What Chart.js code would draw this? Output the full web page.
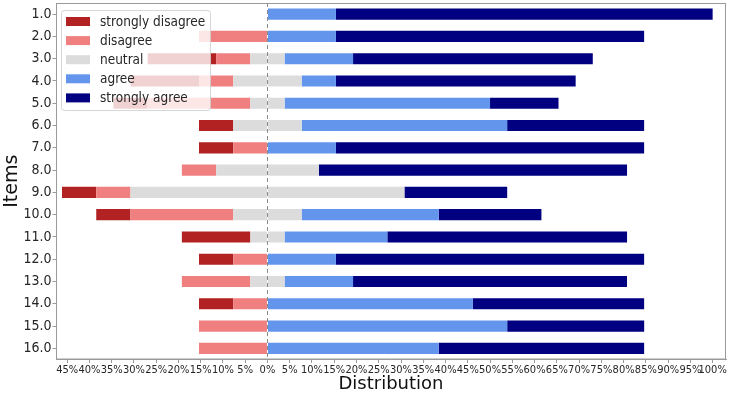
<!DOCTYPE html>
<html>
<head>
<meta charset="utf-8">
<script src="https://cdn.jsdelivr.net/npm/chart.js@4.4.1/dist/chart.umd.min.js"></script>
<style>
  html, body { margin: 0; padding: 0; background: #fff; }
  #wrap { width: 729px; height: 397px; position: relative; }
</style>
</head>
<body>
<div id="wrap"><canvas id="likert"></canvas></div>
<script>
// item labels, top to bottom
const items = ['1.0', '2.0', '3.0', '4.0', '5.0', '6.0', '7.0', '8.0',
  '9.0', '10.0', '11.0', '12.0', '13.0', '14.0', '15.0', '16.0'];

// share of answers per item, in %
const stronglyDisagree = [0, 0, 15.38, 15.38, 7.69, 7.69, 7.69, 0, 7.69, 7.69, 15.38, 7.69, 0, 7.69, 0, 0];
const disagree = [0, 15.38, 7.69, 7.69, 23.08, 0, 7.69, 7.69, 7.69, 23.08, 0, 7.69, 15.38, 7.69, 15.38, 15.38];
const neutral = [0, 0, 7.69, 15.38, 7.69, 15.38, 0, 23.08, 61.54, 15.38, 7.69, 0, 7.69, 0, 0, 0];
const agree = [15.38, 15.38, 15.38, 7.69, 46.15, 46.15, 15.38, 0, 0, 30.77, 23.08, 15.38, 15.38, 46.15, 53.85, 38.46];
const stronglyAgree = [84.62, 69.23, 53.85, 53.85, 15.38, 30.77, 69.23, 69.23, 23.08, 23.08, 53.85, 69.23, 61.54, 38.46, 30.77, 46.15];

// x axis tick values (left side shown as positive %)
const xTickValues = [-45, -40, -35, -30, -25, -20, -15, -10, -5, 0, 5, 10, 15, 20, 25,
  30, 35, 40, 45, 50, 55, 60, 65, 70, 75, 80, 85, 90, 95, 100];

const COLORS = {
  sd: '#b22222',
  d: '#f08080',
  n: '#dcdcdc',
  a: '#6495ed',
  sa: '#000080'
};

const neg = arr => arr.map(v => -v);
const half = arr => arr.map(v => v / 2);

// stacking goes by dataset index: neutral halves first, then the outer answers
const datasets = [
  { label: 'neutral', data: neg(half(neutral)), backgroundColor: COLORS.n },
  { label: 'neutral', data: half(neutral), backgroundColor: COLORS.n },
  { label: 'disagree', data: neg(disagree), backgroundColor: COLORS.d },
  { label: 'agree', data: agree, backgroundColor: COLORS.a },
  { label: 'strongly disagree', data: neg(stronglyDisagree), backgroundColor: COLORS.sd },
  { label: 'strongly agree', data: stronglyAgree, backgroundColor: COLORS.sa }
];
const legendOrder = [4, 2, 0, 3, 5];

datasets.forEach(ds => {
  ds.borderWidth = 0;
  ds.barPercentage = 0.5;
  ds.categoryPercentage = 1;
});

// zero line, frame and the in-plot legend
const likertExtras = {
  id: 'likertExtras',
  afterDatasetsDraw(chart) {
    const { ctx, chartArea: a, scales: { x } } = chart;
    const x0 = Math.round(x.getPixelForValue(0)) + 0.5;
    ctx.save();
    ctx.strokeStyle = '#8a8a8a';
    ctx.lineWidth = 1;
    ctx.setLineDash([4, 3]);
    ctx.beginPath();
    ctx.moveTo(x0, a.top);
    ctx.lineTo(x0, a.bottom);
    ctx.stroke();
    ctx.setLineDash([]);

    ctx.strokeStyle = '#9a9a9a';
    ctx.strokeRect(a.left + 0.5, a.top + 0.5, a.width - 1, a.height - 1);

    const bx = a.left + 5, by = a.top + 7, bw = 149, bh = 100, r = 3;
    ctx.beginPath();
    ctx.roundRect(bx + 0.5, by + 0.5, bw, bh, r);
    ctx.fillStyle = 'rgba(255,255,255,0.8)';
    ctx.fill();
    ctx.strokeStyle = 'rgba(204,204,204,0.8)';
    ctx.stroke();

    ctx.font = "13.5px 'DejaVu Sans Condensed', 'Liberation Sans', sans-serif";
    ctx.textBaseline = 'middle';
    ctx.textAlign = 'left';
    legendOrder.forEach((idx, i) => {
      const ds = chart.data.datasets[idx];
      const cy = by + 11.5 + i * 19.1;
      ctx.fillStyle = ds.backgroundColor;
      ctx.fillRect(bx + 5, cy - 4.5, 24, 9);
      ctx.fillStyle = '#262626';
      ctx.fillText(ds.label, bx + 39, cy + 1);
    });
    ctx.restore();
  }
};

new Chart(document.getElementById('likert'), {
  type: 'bar',
  data: { labels: items, datasets: datasets },
  options: {
    indexAxis: 'y',
    responsive: true,
    maintainAspectRatio: false,
    animation: false,
    layout: { padding: { top: 3, right: 3, left: 0, bottom: 0 } },
    plugins: {
      legend: { display: false },
      tooltip: { enabled: false }
    },
    scales: {
      x: {
        stacked: true,
        min: -47.5,
        max: 103,
        afterBuildTicks: scale => {
          scale.ticks = xTickValues.map(v => ({ value: v }));
        },
        afterFit: scale => { scale.height = 37.5; },
        ticks: {
          autoSkip: false,
          maxRotation: 0,
          padding: 1,
          color: '#262626',
          font: { family: "'Liberation Sans Narrow', 'DejaVu Sans Condensed', sans-serif", size: 11 },
          callback: value => Math.abs(value) + '%'
        },
        grid: { drawOnChartArea: false, drawTicks: true, tickLength: 3.5, color: '#9a9a9a' },
        border: { display: true, color: '#9a9a9a' },
        title: {
          display: true,
          text: 'Distribution',
          color: '#111',
          font: { family: "'DejaVu Sans'", size: 18 },
          padding: { top: 0, bottom: 2 }
        }
      },
      y: {
        stacked: true,
        afterFit: scale => {
          scale.width = 56;
          scale.paddingTop = 0;
          scale.paddingBottom = 0;
        },
        ticks: {
          padding: 1,
          color: '#262626',
          font: { family: "'DejaVu Sans Condensed', 'Liberation Sans', sans-serif", size: 14 }
        },
        grid: { offset: false, drawOnChartArea: false, drawTicks: true, tickLength: 3.5, color: '#9a9a9a' },
        border: { display: true, color: '#9a9a9a' },
        title: {
          display: true,
          text: 'Items',
          color: '#111',
          font: { family: "'DejaVu Sans'", size: 19 },
          padding: { top: 1, bottom: 0 }
        }
      }
    }
  },
  plugins: [likertExtras]
});
</script>
</body>
</html>
